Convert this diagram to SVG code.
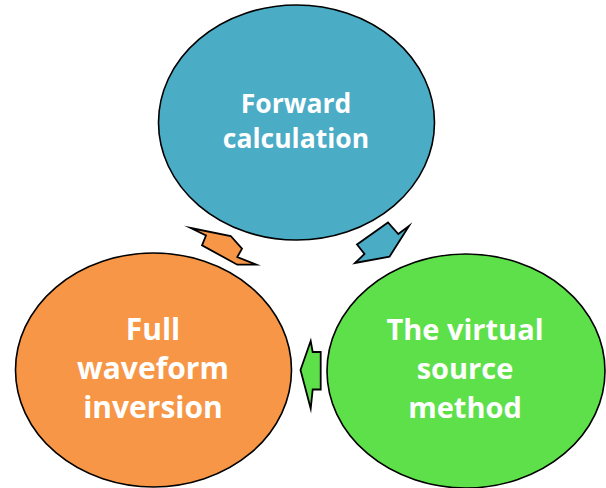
<svg xmlns="http://www.w3.org/2000/svg" width="606" height="488" viewBox="0 0 606 488">
<style>
.node{stroke:#000;stroke-width:1.6}
.arr{stroke:#000;stroke-width:1.8;stroke-linejoin:miter;stroke-miterlimit:20}
.lbl{font-family:"Open Sans","Liberation Sans",sans-serif;font-weight:700;fill:#fff;text-anchor:middle}
</style>
<rect width="606" height="488" fill="#fff"/>
<g id="connectors">
<polygon class="arr" fill="#F79646" points="190.7,228 230.7,236 242,248.7 237.3,257 256.3,264.7 237.3,264.7 202,245.3 206,235.5"/>
<polygon class="arr" fill="#4BACC6" points="409,226 398.3,234 388,222.5 357,244.5 364.5,254 355,263 389.5,256.7"/>
<polygon class="arr" fill="#5EE04A" points="300.5,370 310.7,341 312.7,352 320.7,352 320.7,389.5 312.7,389.5 310.7,408.5"/>
</g>
<g id="forward">
<ellipse class="node" fill="#4BACC6" cx="296.5" cy="122.5" rx="138" ry="117.5"/>
<text class="lbl" font-size="26.5"><tspan x="296" y="113">Forward</tspan><tspan x="296" y="148">calculation</tspan></text>
</g>
<g id="fwi">
<ellipse class="node" fill="#F79646" cx="153.5" cy="370" rx="138" ry="117"/>
<text class="lbl" font-size="30"><tspan x="153" y="340">Full</tspan><tspan x="153" y="379">waveform</tspan><tspan x="153" y="418">inversion</tspan></text>
</g>
<g id="virtual">
<ellipse class="node" fill="#5EE04A" cx="466" cy="371" rx="139" ry="117"/>
<text class="lbl" font-size="29"><tspan x="465" y="340">The virtual</tspan><tspan x="465" y="379">source</tspan><tspan x="465" y="418">method</tspan></text>
</g>
</svg>
